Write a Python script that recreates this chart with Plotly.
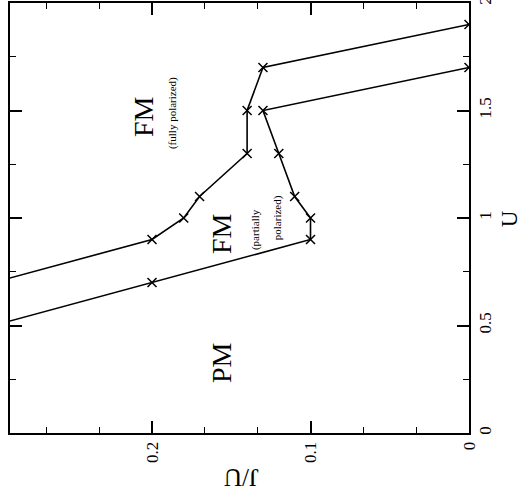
import plotly.graph_objects as go

# Phase boundaries (J/U on horizontal axis, U on vertical axis)
# upper boundary: FM partially polarized -> FM fully polarized
upper_ju = [0.30, 0.20, 0.18, 0.17, 0.14, 0.14, 0.13, 0.0]
upper_u = [0.70, 0.90, 1.00, 1.10, 1.30, 1.50, 1.70, 1.90]
# lower boundary: PM -> FM partially polarized
lower_ju = [0.30, 0.20, 0.10, 0.10, 0.11, 0.12, 0.13, 0.0]
lower_u = [0.50, 0.70, 0.90, 1.00, 1.10, 1.30, 1.50, 1.70]

ju_ticks = [0, 0.1, 0.2]
ju_ticklabels = ["0", "0.1", "0.2"]
u_ticks = [0, 0.5, 1, 1.5, 2]
u_ticklabels = ["0", "0.5", "1", "1.5", "2"]

FONT = "Liberation Serif"

fig = go.Figure()
for xs, ys in [(upper_ju, upper_u), (lower_ju, lower_u)]:
    fig.add_trace(go.Scatter(x=xs, y=ys, mode="lines",
                             line=dict(color="black", width=1.6),
                             showlegend=False, hoverinfo="skip"))
    fig.add_trace(go.Scatter(x=xs[1:], y=ys[1:], mode="markers",
                             marker=dict(symbol="x-thin", size=9,
                                         line=dict(color="black", width=1.5)),
                             showlegend=False, hoverinfo="skip"))

axis_common = dict(showline=True, linecolor="black", linewidth=2, mirror="allticks",
                   ticks="inside", ticklen=12, tickwidth=1.5, tickcolor="black",
                   showgrid=False, zeroline=False, tickangle=-90,
                   ticklabeloverflow="allow", automargin=False,
                   tickfont=dict(family=FONT, size=17, color="black"))

fig.update_xaxes(range=[0.2896, 0], tickvals=ju_ticks, ticktext=ju_ticklabels,
                 minor=dict(ticks="inside", ticklen=6, tickwidth=1.2, tickcolor="black",
                            tick0=0, dtick=0.1 / 3),
                 **axis_common)
fig.update_yaxes(range=[0, 2], side="right", tickvals=u_ticks, ticktext=u_ticklabels,
                 minor=dict(ticks="inside", ticklen=6, tickwidth=1.2, tickcolor="black",
                            tick0=0, dtick=0.25),
                 **axis_common)

def txt(x, y, s, size, ref="data", angle=-90):
    fig.add_annotation(x=x, y=y, xref="x" if ref == "data" else "paper",
                       yref="y" if ref == "data" else "paper",
                       text=s, showarrow=False, textangle=angle,
                       font=dict(family=FONT, size=size, color="black"),
                       xanchor="center", yanchor="middle")

txt(0.2057, 1.474, "FM", 28)
txt(0.1874, 1.488, "(fully polarized)", 11)
txt(0.1558, 0.926, "FM", 28)
txt(0.135, 0.944, "(partially", 11)
txt(0.121, 1.00, "polarized)", 11)
txt(0.1558, 0.326, "PM", 28)

txt(0.503, -0.104, "J/U", 25, ref="paper", angle=180)
txt(1.09, 0.498, "U", 23, ref="paper")

fig.update_layout(width=523, height=493,
                  margin=dict(l=10, r=54, t=3, b=60),
                  paper_bgcolor="white", plot_bgcolor="white")

fig.write_html("out.html")
